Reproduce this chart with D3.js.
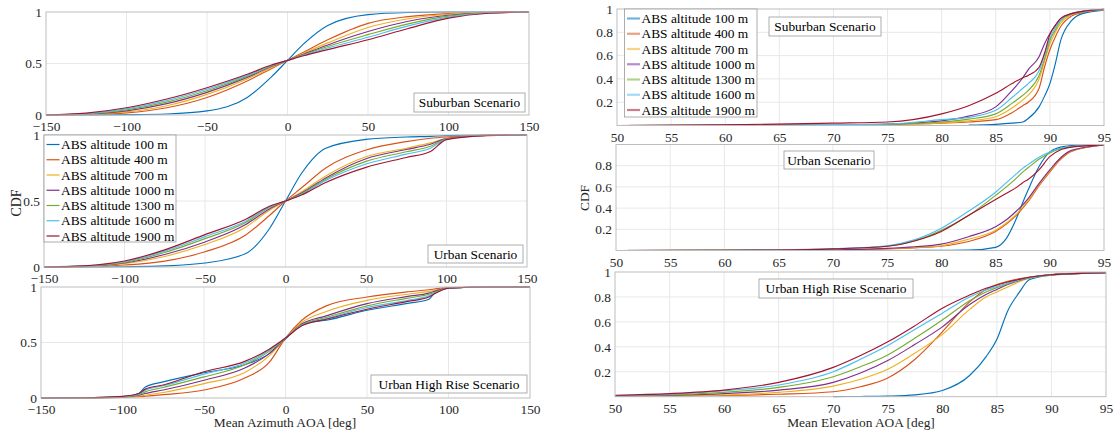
<!DOCTYPE html>
<html><head><meta charset="utf-8">
<script src="https://cdn.jsdelivr.net/npm/d3@7"></script>
<style>
body{margin:0;background:#fff}
svg{display:block}
text{font-family:"Liberation Serif","Times New Roman",serif}
</style>
</head><body>
<svg id="c" width="1120" height="435"></svg>
<script>
// ---------- data ----------
const seriesNames = ["ABS altitude 100 m","ABS altitude 400 m","ABS altitude 700 m","ABS altitude 1000 m","ABS altitude 1300 m","ABS altitude 1600 m","ABS altitude 1900 m"];
const seriesColors = ["#0072BD","#D95319","#EDB120","#7E2F8E","#77AC30","#4DBEEE","#A2142F"];

const azXTicks = [-150,-100,-50,0,50,100,150];
const azYTicks = [0,0.5,1];
const elXTicks = [50,55,60,65,70,75,80,85,90,95];
const elYTicks = [0.2,0.4,0.6,0.8,1];
const elYTicksUrban = [0.2,0.4,0.6,0.8];

// Suburban, azimuth
const azSubX = [-150,-125,-100,-75,-50,-25,-10,0,10,25,50,75,100,125,150];
const azSubY = [
 [0,0,0.003,0.01,0.04,0.17,0.37,0.53,0.69,0.87,0.975,0.995,1,1,1],
 [0,0.005,0.02,0.07,0.17,0.33,0.45,0.53,0.61,0.73,0.89,0.955,0.985,0.998,1],
 [0,0.008,0.03,0.09,0.2,0.35,0.46,0.53,0.6,0.7,0.85,0.935,0.978,0.997,1],
 [0,0.01,0.04,0.11,0.22,0.365,0.47,0.53,0.59,0.68,0.81,0.91,0.968,0.995,1],
 [0,0.012,0.05,0.125,0.235,0.375,0.475,0.53,0.585,0.665,0.78,0.885,0.96,0.993,1],
 [0,0.014,0.06,0.14,0.25,0.385,0.48,0.53,0.58,0.65,0.755,0.865,0.95,0.99,1],
 [0,0.018,0.07,0.155,0.265,0.395,0.485,0.53,0.575,0.635,0.73,0.84,0.94,0.988,1]
];
// Urban, azimuth
const azUrbX = [-150,-125,-100,-75,-50,-25,-10,0,10,25,50,75,90,100,125,150];
const azUrbY = [
 [0,0,0.002,0.008,0.03,0.1,0.29,0.5,0.71,0.9,0.967,0.985,0.99,0.995,1,1],
 [0,0.003,0.015,0.045,0.115,0.24,0.39,0.5,0.6,0.75,0.886,0.95,0.975,0.985,0.998,1],
 [0,0.005,0.025,0.08,0.17,0.3,0.43,0.5,0.57,0.69,0.835,0.9,0.94,0.975,0.997,1],
 [0,0.006,0.03,0.095,0.19,0.32,0.44,0.5,0.56,0.675,0.82,0.89,0.93,0.973,0.997,1],
 [0,0.007,0.035,0.11,0.215,0.335,0.45,0.5,0.555,0.665,0.8,0.873,0.915,0.97,0.996,1],
 [0,0.008,0.04,0.12,0.23,0.345,0.455,0.5,0.55,0.655,0.78,0.855,0.9,0.968,0.996,1],
 [0,0.009,0.045,0.13,0.245,0.36,0.46,0.5,0.545,0.64,0.755,0.83,0.875,0.965,0.995,1]
];
// Urban High Rise, azimuth
const azHrX = [-150,-125,-100,-90,-86,-75,-50,-25,-10,0,10,25,50,75,88,93,100,125,150];
const azHrY = [
 [0,0.001,0.01,0.04,0.1,0.145,0.228,0.3,0.4,0.53,0.67,0.7,0.79,0.853,0.89,0.97,0.99,1,1],
 [0,0.001,0.006,0.012,0.016,0.03,0.072,0.18,0.32,0.54,0.7,0.83,0.91,0.957,0.975,0.985,0.995,1,1],
 [0,0.001,0.008,0.018,0.025,0.05,0.13,0.23,0.38,0.54,0.68,0.78,0.88,0.935,0.96,0.975,0.993,1,1],
 [0,0.002,0.01,0.025,0.04,0.072,0.16,0.27,0.4,0.54,0.665,0.74,0.85,0.915,0.945,0.968,0.99,1,1],
 [0,0.002,0.012,0.03,0.055,0.095,0.19,0.3,0.42,0.54,0.66,0.725,0.83,0.9,0.935,0.96,0.99,1,1],
 [0,0.002,0.013,0.035,0.07,0.11,0.215,0.315,0.43,0.54,0.655,0.715,0.815,0.88,0.92,0.955,0.99,1,1],
 [0,0.002,0.015,0.04,0.08,0.117,0.237,0.33,0.44,0.54,0.65,0.71,0.8,0.87,0.91,0.95,0.99,1,1]
];
// Suburban, elevation
const elSubX = [50,60,70,75,80,82.5,85,86.5,87.5,88,89,89.5,90,90.5,91,92,93,95];
const elSubY = [
 [null,null,null,null,null,0.003,0.01,0.02,0.03,0.06,0.16,0.25,0.36,0.53,0.73,0.9,0.96,0.99],
 [0,0.001,0.004,0.008,0.02,0.03,0.05,0.11,0.17,0.2,0.32,0.5,0.65,0.76,0.85,0.94,0.97,0.995],
 [0,0.001,0.005,0.009,0.022,0.04,0.075,0.15,0.22,0.26,0.4,0.55,0.7,0.8,0.88,0.95,0.975,0.995],
 [0,0.002,0.006,0.012,0.04,0.08,0.16,0.3,0.41,0.48,0.59,0.7,0.79,0.86,0.915,0.96,0.98,0.997],
 [0,0.002,0.006,0.011,0.03,0.055,0.1,0.19,0.26,0.3,0.43,0.57,0.73,0.82,0.9,0.955,0.978,0.996],
 [0,0.002,0.007,0.013,0.05,0.07,0.13,0.24,0.32,0.36,0.47,0.6,0.75,0.84,0.91,0.96,0.98,0.997],
 [0,0.005,0.02,0.03,0.1,0.17,0.276,0.36,0.41,0.43,0.5,0.62,0.78,0.86,0.92,0.96,0.98,0.998]
];
// Urban, elevation
const elUrbX = [50,60,65,70,75,77.5,80,82.5,85,86,87,87.5,88,89,90,91,92,95];
const elUrbY = [
 [null,null,null,null,null,0.001,0.002,0.003,0.03,0.115,0.32,0.45,0.57,0.79,0.93,0.975,0.99,1],
 [0,0.001,0.002,0.004,0.015,0.025,0.04,0.085,0.18,0.25,0.34,0.4,0.46,0.61,0.74,0.86,0.935,0.995],
 [0,0.001,0.002,0.005,0.017,0.028,0.045,0.106,0.19,0.26,0.35,0.41,0.47,0.62,0.75,0.87,0.94,0.995],
 [0,0.001,0.003,0.006,0.02,0.035,0.06,0.13,0.225,0.29,0.38,0.43,0.49,0.63,0.76,0.875,0.945,0.995],
 [0,0.002,0.005,0.016,0.04,0.09,0.19,0.33,0.52,0.6,0.69,0.74,0.78,0.86,0.92,0.96,0.98,0.997],
 [0,0.002,0.005,0.017,0.045,0.1,0.21,0.37,0.55,0.64,0.73,0.775,0.81,0.88,0.93,0.965,0.98,0.997],
 [0,0.002,0.005,0.016,0.04,0.09,0.18,0.33,0.48,0.54,0.6,0.64,0.67,0.76,0.885,0.95,0.975,0.997]
];
// Urban High Rise, elevation
const elHrX = [50,55,60,65,70,72.5,75,77.5,80,82.5,84,85,86,87,88,90,95];
const elHrY = [
 [null,null,null,null,0.001,0.002,0.005,0.015,0.05,0.17,0.32,0.46,0.69,0.83,0.94,0.975,0.995],
 [0.003,0.006,0.01,0.02,0.04,0.08,0.15,0.3,0.52,0.76,0.86,0.9,0.925,0.945,0.96,0.98,0.995],
 [0.004,0.008,0.014,0.035,0.085,0.14,0.22,0.35,0.5,0.7,0.8,0.84,0.88,0.92,0.95,0.975,0.995],
 [0.005,0.012,0.025,0.053,0.115,0.19,0.29,0.42,0.56,0.74,0.82,0.86,0.9,0.93,0.955,0.978,0.995],
 [0.006,0.016,0.035,0.075,0.16,0.24,0.335,0.47,0.615,0.77,0.84,0.875,0.905,0.935,0.955,0.978,0.995],
 [0.008,0.02,0.048,0.094,0.2,0.3,0.41,0.54,0.67,0.8,0.855,0.885,0.91,0.935,0.955,0.978,0.995],
 [0.012,0.025,0.053,0.115,0.235,0.33,0.44,0.57,0.71,0.815,0.87,0.896,0.92,0.94,0.958,0.978,0.995]
];

// ---------- layout ----------
const panels = [
 {xs:azSubX, ys:azSubY, xd:[-150,150], xt:azXTicks, yt:azYTicks, box:[46,529,12,115], title:"Suburban Scenario", tb:[414,93,111,19]},
 {xs:azUrbX, ys:azUrbY, xd:[-150,150], xt:azXTicks, yt:azYTicks, box:[44,527,135,267], title:"Urban Scenario", tb:[428,245,95,18], legend:{x:44,y:135,w:132,h:107,lw:1.2,op:1}},
 {xs:azHrX, ys:azHrY, xd:[-150,150], xt:azXTicks, yt:azYTicks, box:[41,530,287,398], title:"Urban High Rise Scenario", tb:[371,375,156,18]},
 {xs:elSubX, ys:elSubY, xd:[50,95], xt:elXTicks, yt:elYTicks, box:[617,1104,9,125.5], title:"Suburban Scenario", tb:[769,17,112,19], legend:{x:624.5,y:9,w:132.5,h:108,lw:2.2,op:0.55}},
 {xs:elUrbX, ys:elUrbY, xd:[50,95], xt:elXTicks, yt:elYTicksUrban, box:[616,1104,144.5,250.5], title:"Urban Scenario", tb:[784,151,90,18]},
 {xs:elHrX, ys:elHrY, xd:[50,95], xt:elXTicks, yt:elYTicks, box:[615,1106,272,396.7], title:"Urban High Rise Scenario", tb:[759,279,154,19]}
];

const svg = d3.select("#c");
const FS = 13.4;

panels.forEach(p => {
  const [l, r, t, b] = p.box;
  const x = d3.scaleLinear().domain(p.xd).range([l, r]);
  const y = d3.scaleLinear().domain([0, 1]).range([b, t]);
  const g = svg.append("g");

  // grid
  g.selectAll(".gx").data(p.xt.filter(v => v !== p.xd[0] && v !== p.xd[1])).join("line")
    .attr("x1", d => x(d)).attr("x2", d => x(d)).attr("y1", t).attr("y2", b)
    .attr("stroke", "#e8e8e8").attr("stroke-width", 1);
  g.selectAll(".gy").data(p.yt.filter(v => v !== 0 && v !== 1)).join("line")
    .attr("y1", d => y(d)).attr("y2", d => y(d)).attr("x1", l).attr("x2", r)
    .attr("stroke", "#e8e8e8").attr("stroke-width", 1);

  // curves
  const line = d3.line()
    .defined(d => d[1] !== null)
    .x(d => x(d[0])).y(d => y(d[1]))
    .curve(d3.curveMonotoneX);
  p.ys.forEach((row, i) => {
    g.append("path")
      .attr("d", line(p.xs.map((xv, j) => [xv, row[j]])))
      .attr("fill", "none").attr("stroke", seriesColors[i]).attr("stroke-width", 1.15);
  });

  // box
  g.append("rect").attr("x", l).attr("y", t).attr("width", r - l).attr("height", b - t)
    .attr("fill", "none").attr("stroke", "#bdbdbd").attr("stroke-width", 1);

  // axes
  const ax = g.append("g").attr("transform", `translate(0,${b})`)
    .call(d3.axisBottom(x).tickValues(p.xt).tickSize(0).tickPadding(6.5).tickFormat(d3.format("")));
  const ay = g.append("g").attr("transform", `translate(${l},0)`)
    .call(d3.axisLeft(y).tickValues(p.yt).tickSize(0).tickPadding(4).tickFormat(d => d === 0 ? "0" : d === 1 ? "1" : d3.format("")(d)));
  [ax, ay].forEach(a => {
    a.select(".domain").remove();
    a.selectAll("text").attr("font-size", FS).attr("fill", "#262626")
      .attr("font-family", '"Liberation Serif","Times New Roman",serif');
  });

  // title box
  const [tx, ty, tw, th] = p.tb;
  g.append("rect").attr("x", tx).attr("y", ty).attr("width", tw).attr("height", th)
    .attr("fill", "#fff").attr("stroke", "#999").attr("stroke-width", 0.8);
  g.append("text").attr("x", tx + tw / 2).attr("y", ty + th / 2 + 4.6)
    .attr("text-anchor", "middle").attr("font-size", FS).attr("fill", "#000").text(p.title);

  // legend
  if (p.legend) {
    const L = p.legend;
    g.append("rect").attr("x", L.x).attr("y", L.y).attr("width", L.w).attr("height", L.h)
      .attr("fill", "#fff").attr("stroke", "#999").attr("stroke-width", 0.8);
    seriesNames.forEach((n, i) => {
      const cy = L.y + 9.5 + i * 15.25;
      g.append("line").attr("x1", L.x + 2.5).attr("x2", L.x + 15.5).attr("y1", cy).attr("y2", cy)
        .attr("stroke", seriesColors[i]).attr("stroke-width", L.lw).attr("stroke-opacity", L.op);
      g.append("text").attr("x", L.x + 17).attr("y", cy + 4.6).attr("font-size", FS).attr("fill", "#000").text(n);
    });
  }
});

// axis labels
svg.append("text").attr("transform", "translate(21,203) rotate(-90)").attr("text-anchor", "middle")
  .attr("font-size", FS + 0.6).attr("fill", "#262626").text("CDF");
svg.append("text").attr("transform", "translate(589,198) rotate(-90)").attr("text-anchor", "middle")
  .attr("font-size", FS).attr("fill", "#262626").text("CDF");
svg.append("text").attr("x", 285).attr("y", 427).attr("text-anchor", "middle")
  .attr("font-size", FS).attr("fill", "#262626").text("Mean Azimuth AOA [deg]");
svg.append("text").attr("x", 861).attr("y", 427).attr("text-anchor", "middle")
  .attr("font-size", FS).attr("fill", "#262626").text("Mean Elevation AOA [deg]");
</script>
</body></html>
